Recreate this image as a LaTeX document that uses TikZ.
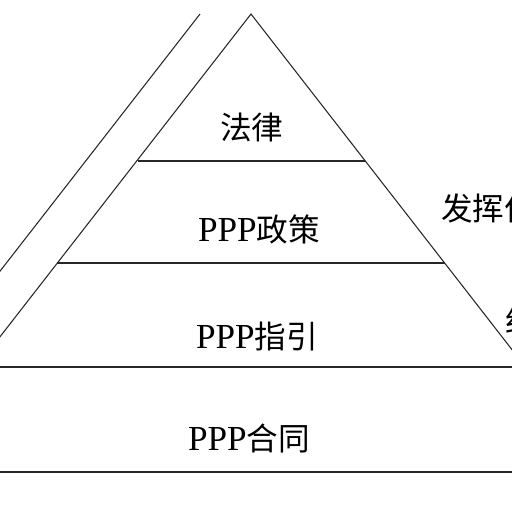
\documentclass[tikz,border=0pt]{standalone}
\usepackage{fontspec}
\setmainfont{Liberation Serif}
\newfontfamily\cjk{Noto Sans CJK SC}
\usetikzlibrary{positioning}

\begin{document}
\begin{tikzpicture}[
    x=0.02cm, y=-0.02cm,
    edge/.style={draw=black!85, line width=0.6pt},
    tier/.style={font=\fontsize{20}{22}\selectfont, inner sep=0pt},
    side/.style={font=\fontsize{18}{20}\selectfont\cjk, inner sep=0pt, anchor=west},
  ]
  \useasboundingbox (0,0) rectangle (512,512);
  \clip (0,0) rectangle (512,512);

  % Pyramid outline
  \coordinate (apex) at (251,14);
  \coordinate (baseL) at (-23.5,367);
  \coordinate (baseR) at (525.5,367);
  \coordinate (outerTop) at (200,14);
  \coordinate (outerBot) at (-74.5,367);
  \draw[edge] (baseL) -- (apex) -- (baseR);
  \draw[edge] (outerTop) -- (outerBot);

  % Tier lines
  \draw[edge] (137.7,161) -- (365.3,161);
  \draw[edge] (57.4,263) -- (444.6,263);
  \draw[edge] (-10,367) -- (522,367);
  \draw[edge] (-10,472) -- (522,472);

  % Tier labels
  \node[tier] (law)      at (252,127) {\fontsize{18}{20}\selectfont\cjk 法律};
  \node[tier] (policy)   at (259,229) {PPP{\fontsize{18}{20}\selectfont\cjk 政策}};
  \node[tier] (guide)    at (257,336) {PPP{\fontsize{18}{20}\selectfont\cjk 指引}};
  \node[tier] (contract) at (249,438) {PPP{\fontsize{18}{20}\selectfont\cjk 合同}};

  % Side text (cut by the frame)
  \node[side] (role)  at (441,208) {发挥作};
  \node[side] (bound) at (505,320) {约};
\end{tikzpicture}
\end{document}
